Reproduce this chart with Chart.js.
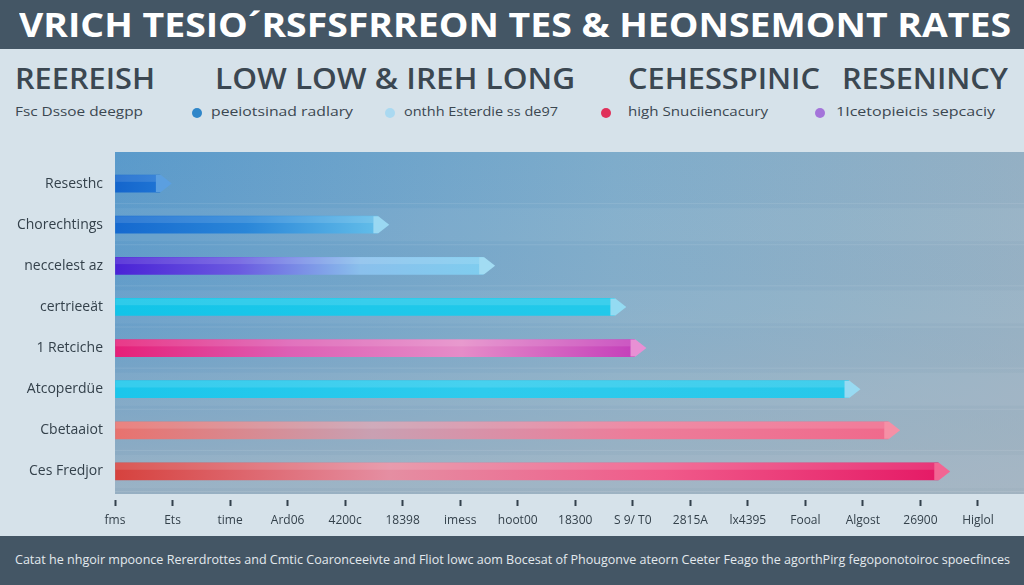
<!DOCTYPE html>
<html lang="en">
<head>
<meta charset="UTF-8">
<script src="https://cdn.jsdelivr.net/npm/chart.js"></script>
<title>Rates</title>
<style>
  body { margin:0; width:1024px; height:585px; overflow:hidden; background:#d6e2ea; font-family:"Open Sans","Liberation Sans",sans-serif; position:relative; }
  .bar-top { position:absolute; left:0; top:0; width:1024px; height:49px; background:#445665; }
  .fit { position:absolute; white-space:nowrap; transform-origin:0 50%; line-height:1; }
  #title { left:19px; top:7px; color:#fff; font-weight:700; font-size:34px; }
  .head { top:64px; font-size:28px; font-weight:600; color:#3b4751; }
  .leg { top:105px; font-size:13px; color:#3b4751; }
  .dot { position:absolute; width:10px; height:10px; border-radius:50%; top:108px; }
  #chartBox { position:absolute; left:0; top:140px; width:1024px; height:396px; }
  .bar-bottom { position:absolute; left:0; top:536px; width:1024px; height:49px; background:#445665; }
  #foot { left:15px; top:553px; color:#e3e9ee; font-size:13px; }
</style>
</head>
<body>
  <div class="bar-top"></div>
  <div class="fit" id="title" data-w="992">VRICH TESIO´RSFSFRREON TES &amp; HEONSEMONT RATES</div>

  <div class="fit head" style="left:15px" data-w="140">REEREISH</div>
  <div class="fit head" style="left:215px" data-w="360">LOW LOW &amp; IREH LONG</div>
  <div class="fit head" style="left:628px" data-w="192">CEHESSPINIC</div>
  <div class="fit head" style="left:842px" data-w="166">RESENINCY</div>

  <div class="fit leg" style="left:15px" data-w="128">Fsc Dssoe deegpp</div>
  <div class="dot" style="left:192px;background:#2f86c9"></div>
  <div class="fit leg" style="left:211px" data-w="142">peeiotsinad radlary</div>
  <div class="dot" style="left:385px;background:#aad9f1"></div>
  <div class="fit leg" style="left:404px" data-w="154">onthh Esterdie ss de97</div>
  <div class="dot" style="left:601px;background:#e0305a"></div>
  <div class="fit leg" style="left:628px" data-w="140">high Snuciiencacury</div>
  <div class="dot" style="left:815px;background:#a474da"></div>
  <div class="fit leg" style="left:836px" data-w="159">1Icetopieicis sepcaciy</div>

  <div id="chartBox"><canvas id="rateChart"></canvas></div>

  <div class="bar-bottom"></div>
  <div class="fit" id="foot" data-w="995">Catat he nhgoir mpoonce Rererdrottes and Cmtic Coaronceeivte and Fliot lowc aom Bocesat of Phougonve ateorn Ceeter Feago the agorthPirg fegoponotoiroc spoecfinces</div>

<script>
  // data
  const categories = ['Resesthc', 'Chorechtings', 'neccelest az', 'certrieeät', '1 Retciche', 'Atcoperdüe', 'Cbetaaiot', 'Ces Fredjor'];
  const values = [0.78, 4.56, 6.4, 8.68, 9.03, 12.75, 13.44, 14.31];
  const tickLabels = ['fms', 'Ets', 'time', 'Ard06', '4200c', '18398', 'imess', 'hoot00', '18300', 'S 9/ T0', '2815A', 'lx4395', 'Fooal', 'Algost', '26900', 'Higlol'];

  // gradient stops for each bar (left -> end)
  const barStops = [
    ['#1465cc', '#1f74d4'],
    ['#1569cf', '#2a86d8', '#62bde9'],
    ['#4a22d6', '#6a5ae0', '#8ac0ec', '#7fcdef'],
    ['#12c4e8', '#1dc8ea', '#22c9ea'],
    ['#e61f78', '#dd5fb4', '#e58cc8', '#c43fba'],
    ['#1bc6eb', '#2ecbed', '#27c8ea'],
    ['#e8726e', '#c9a0b2', '#ec7d9a', '#f06a8c'],
    ['#d6423e', '#e58ea2', '#f05a8a', '#e51a66']
  ];
  const tipColors = ['#5b9fe0', '#9ad8f2', '#a2dcf3', '#94dbf2', '#e890d4', '#98daf2', '#f590a6', '#f26693'];

  // fit text blocks to their measured widths
  document.querySelectorAll('.fit').forEach(el => {
    const w = el.getBoundingClientRect().width;
    el.style.transform = 'scaleX(' + (parseFloat(el.dataset.w) / w) + ')';
  });

  const plotBackground = {
    id: 'plotBackground',
    beforeDraw(chart) {
      const { ctx, chartArea: a } = chart;
      const top = a.top - 11, bottom = a.bottom + 2;
      ctx.save();
      let g = ctx.createLinearGradient(a.left, 0, a.right, 0);
      g.addColorStop(0, '#5a9acb');
      g.addColorStop(0.55, '#7eaccb');
      g.addColorStop(1, '#94b0c4');
      ctx.fillStyle = g;
      ctx.fillRect(a.left, top, a.right - a.left, bottom - top);
      g = ctx.createLinearGradient(0, top, 0, bottom);
      g.addColorStop(0, 'rgba(165,180,192,0)');
      g.addColorStop(0.45, 'rgba(165,180,192,0.15)');
      g.addColorStop(1, 'rgba(165,180,192,0.8)');
      ctx.fillStyle = g;
      ctx.fillRect(a.left, top, a.right - a.left, bottom - top);
      // soft bands per category
      const ys = chart.scales.y;
      const half = (ys.getPixelForValue(1) - ys.getPixelForValue(0)) / 2;
      categories.forEach((c, i) => {
        const yc = ys.getPixelForValue(i);
        ctx.fillStyle = i % 2 ? 'rgba(255,255,255,0.05)' : 'rgba(255,255,255,0.0)';
        ctx.fillRect(a.left, yc - half + 4, a.right - a.left, half * 2 - 8);
        ctx.fillStyle = 'rgba(255,255,255,0.10)';
        ctx.fillRect(a.left, yc + half - 1, a.right - a.left, 1);
      });
      ctx.restore();
    }
  };

  const barTips = {
    id: 'barTips',
    afterDatasetsDraw(chart) {
      const ctx = chart.ctx;
      chart.getDatasetMeta(0).data.forEach((bar, i) => {
        const { x, y, height } = bar.getProps(['x', 'y', 'height'], true);
        ctx.save();
        ctx.fillStyle = tipColors[i];
        ctx.beginPath();
        ctx.moveTo(x - 4, y - height / 2);
        ctx.lineTo(x + 1, y - height / 2);
        ctx.lineTo(x + height * 0.7, y);
        ctx.lineTo(x + 1, y + height / 2);
        ctx.lineTo(x - 4, y + height / 2);
        ctx.closePath();
        ctx.fill();
        // light top highlight
        ctx.fillStyle = 'rgba(255,255,255,0.12)';
        ctx.fillRect(bar.base, y - height / 2, x - 4 - bar.base, height * 0.4);
        ctx.restore();
      });
    }
  };

  new Chart(document.getElementById('rateChart'), {
    type: 'bar',
    data: {
      labels: categories,
      datasets: [{
        data: values,
        barThickness: 17,
        borderWidth: 0,
        backgroundColor: ctx => {
          const chart = ctx.chart;
          const a = chart.chartArea;
          if (!a) return '#2a86d8';
          const end = chart.scales.x.getPixelForValue(values[ctx.dataIndex]);
          const stops = barStops[ctx.dataIndex];
          const g = chart.ctx.createLinearGradient(a.left, 0, end, 0);
          stops.forEach((c, k) => g.addColorStop(k / (stops.length - 1), c));
          return g;
        }
      }]
    },
    options: {
      indexAxis: 'y',
      responsive: true,
      maintainAspectRatio: false,
      animation: false,
      layout: { padding: { top: 23, right: 0, left: 0, bottom: 0 } },
      plugins: { legend: { display: false }, tooltip: { enabled: false } },
      scales: {
        x: {
          type: 'linear',
          min: 0,
          max: 15.8,
          afterFit: s => { s.height = 44; },
          border: { display: false },
          grid: { drawOnChartArea: false, drawTicks: true, tickLength: 14, tickWidth: 2, tickColor: '#33414c', tickBorderDash: [0, 8, 6] },
          ticks: {
            stepSize: 1,
            autoSkip: false,
            maxRotation: 0,
            padding: 7,
            color: '#34414b',
            font: { size: 12, family: '"Liberation Sans Narrow", "Open Sans", sans-serif' },
            callback: v => tickLabels[v]
          }
        },
        y: {
          afterFit: s => { s.width = 115; },
          border: { display: false },
          grid: { display: false, drawTicks: false },
          ticks: { padding: 12, color: '#34414b', font: { size: 14, weight: '500', family: '"Open Sans", sans-serif' } }
        }
      }
    },
    plugins: [plotBackground, barTips]
  });
</script>
</body>
</html>
